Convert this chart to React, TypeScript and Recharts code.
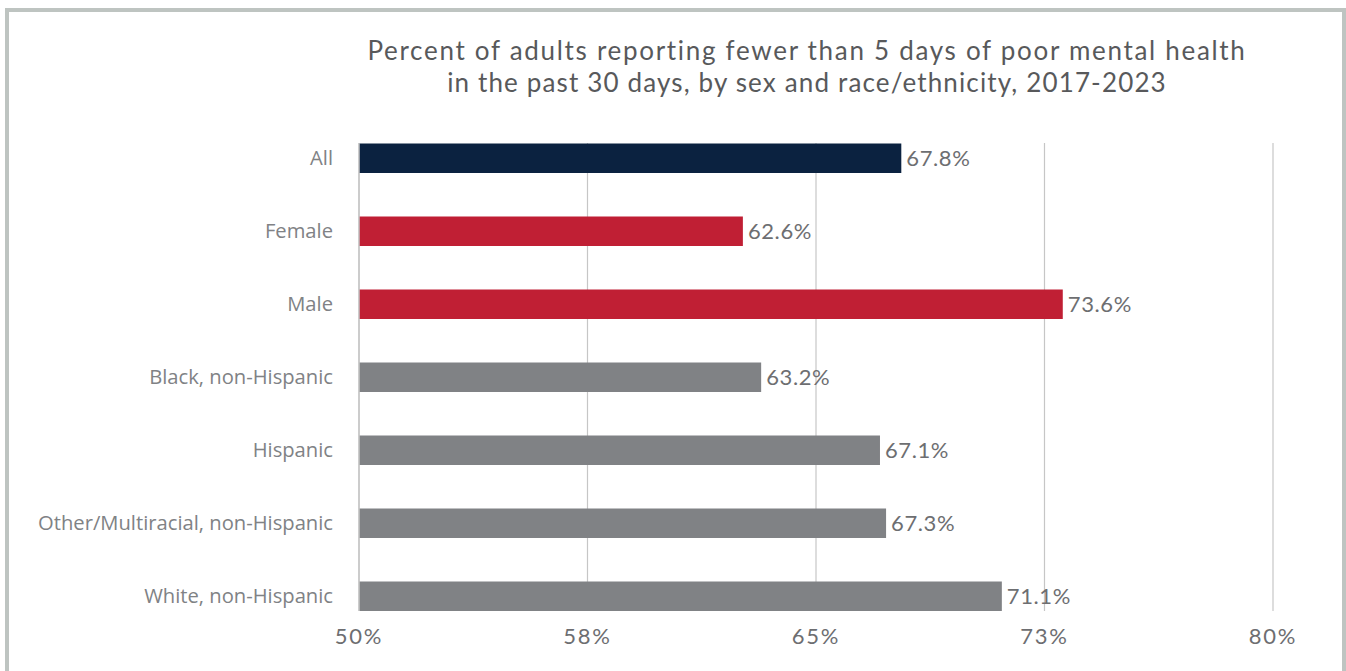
import React from "react";
import { BarChart, Bar, XAxis, YAxis, CartesianGrid, Cell, LabelList } from "recharts";

const categories = [
  "All",
  "Female",
  "Male",
  "Black, non-Hispanic",
  "Hispanic",
  "Other/Multiracial, non-Hispanic",
  "White, non-Hispanic",
];
const values = [67.8, 62.6, 73.1, 63.2, 67.1, 67.3, 71.1];
const valueLabels = ["67.8%", "62.6%", "73.6%", "63.2%", "67.1%", "67.3%", "71.1%"];
const barColors = ["#0b2240", "#c01f34", "#c01f34", "#808285", "#808285", "#808285", "#808285"];
const xTicks = [50, 57.5, 65, 72.5, 80];
const titleLines = [
  "Percent of adults reporting fewer than 5 days of poor mental health",
  "in the past 30 days, by sex and race/ethnicity, 2017-2023",
];
const titleSpacing = [1.7, 1.15];

const data = categories.map((name, i) => ({ name, value: values[i], label: valueLabels[i] }));

export default function App() {
  return (
    <div style={{ position: "absolute", left: 0, top: 0, width: 1346, height: 671, overflow: "hidden", background: "#fff" }}>
      <div
        style={{
          position: "absolute",
          left: 5,
          top: 8,
          width: 1341,
          height: 663,
          boxSizing: "border-box",
          borderTop: "4px solid #bec4c1",
          borderLeft: "4px solid #bec4c1",
          borderRight: "4px solid #bec4c1",
        }}
      />
      <div
        style={{
          position: "absolute",
          left: 307,
          top: 34,
          width: 1000,
          textAlign: "center",
          fontFamily: "Lato, sans-serif",
          fontSize: 26,
          lineHeight: "32px",
          color: "#58595b",
        }}
      >
        {titleLines.map((t, i) => (
          <div key={t} style={{ letterSpacing: titleSpacing[i] }}>
            {t}
          </div>
        ))}
      </div>
      <div style={{ position: "absolute", left: 0, top: 0 }}>
        <BarChart
          width={1346}
          height={671}
          data={data}
          layout="vertical"
          margin={{ top: 143, right: 73, bottom: 20, left: 0 }}
        >
          <CartesianGrid horizontal={false} stroke="#c6c6c6" strokeWidth={1.2} />
          <XAxis
            type="number"
            domain={[50, 80]}
            ticks={xTicks}
            interval={0}
            height={40}
            axisLine={false}
            tickLine={false}
            tickSize={0}
            tickMargin={17}
            tickFormatter={(v: number) => `${Math.round(v)}%`}
            tick={{ fill: "#6d6e71", fontSize: 22, fontFamily: "Lato, sans-serif", letterSpacing: 1.8 }}
          />
          <YAxis
            type="category"
            dataKey="name"
            width={359}
            padding={{ top: -21.5, bottom: -21.5 }}
            axisLine={{ stroke: "#c6c6c6", strokeWidth: 1.5 }}
            tickLine={false}
            tickSize={0}
            tickMargin={26}
            interval={0}
            tick={{ fill: "#808285", fontSize: 20.2, fontFamily: "'Open Sans', sans-serif" }}
          />
          <Bar dataKey="value" barSize={29.5} isAnimationActive={false}>
            {data.map((d, i) => (
              <Cell key={d.name} fill={barColors[i]} />
            ))}
            <LabelList
              dataKey="label"
              position="right"
              offset={5}
              fill="#6d6e71"
              style={{ fontSize: 22, fontFamily: "Lato, sans-serif", letterSpacing: 0.6 }}
            />
          </Bar>
        </BarChart>
      </div>
    </div>
  );
}
